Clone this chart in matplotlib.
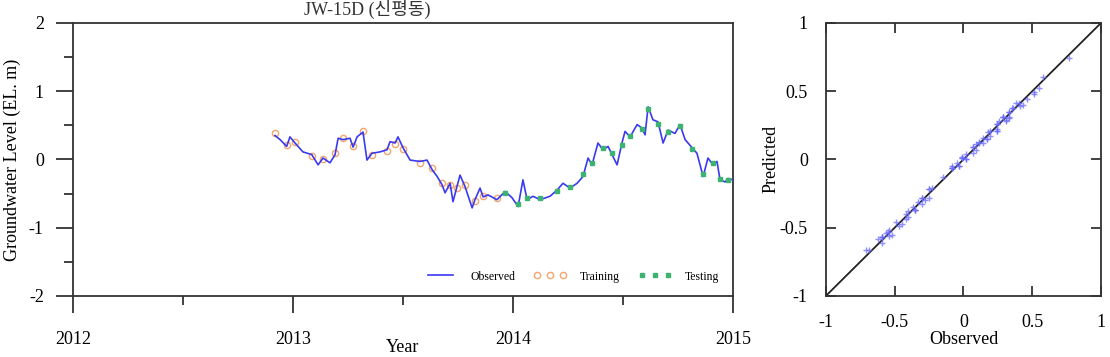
import numpy as np
import matplotlib
matplotlib.use("Agg")
import matplotlib.pyplot as plt

plt.rcParams['font.family'] = ['Liberation Serif', 'Noto Sans CJK KR']
plt.rcParams['axes.unicode_minus'] = False

# (decimal years / m)
obs_year = [2012.918, 2012.941, 2012.971, 2012.986, 2013.009, 2013.045, 2013.085, 2013.114, 2013.136, 2013.168,
            2013.191, 2013.205, 2013.227, 2013.259, 2013.273, 2013.291, 2013.318, 2013.336, 2013.359, 2013.395,
            2013.427, 2013.441, 2013.464, 2013.477, 2013.500, 2013.532, 2013.577, 2013.609, 2013.632, 2013.655,
            2013.677, 2013.691, 2013.714, 2013.727, 2013.745, 2013.759, 2013.782, 2013.814, 2013.827, 2013.850,
            2013.864, 2013.886, 2013.927, 2013.964, 2013.995, 2014.023, 2014.045, 2014.064, 2014.091, 2014.123,
            2014.168, 2014.200, 2014.227, 2014.259, 2014.291, 2014.318, 2014.341, 2014.359, 2014.386, 2014.409,
            2014.432, 2014.450, 2014.473, 2014.495, 2014.509, 2014.532, 2014.564, 2014.586, 2014.600, 2014.614,
            2014.636, 2014.659, 2014.682, 2014.705, 2014.736, 2014.759, 2014.782, 2014.814, 2014.836, 2014.864,
            2014.886, 2014.909, 2014.927, 2014.941, 2014.964, 2014.977, 2015.000]
observed = [0.35, 0.29, 0.19, 0.33, 0.24, 0.11, 0.07, -0.08, 0.02, -0.05,
            0.07, 0.31, 0.29, 0.31, 0.18, 0.33, 0.40, -0.01, 0.09, 0.11,
            0.14, 0.26, 0.24, 0.33, 0.17, -0.01, -0.03, -0.01, -0.15, -0.25,
            -0.37, -0.49, -0.35, -0.62, -0.40, -0.23, -0.40, -0.71, -0.59, -0.42,
            -0.55, -0.52, -0.59, -0.47, -0.56, -0.69, -0.30, -0.59, -0.54, -0.59,
            -0.54, -0.45, -0.35, -0.42, -0.35, -0.25, 0.02, -0.08, 0.24, 0.14,
            0.19, 0.07, -0.08, 0.24, 0.41, 0.33, 0.51, 0.46, 0.36, 0.77,
            0.58, 0.55, 0.24, 0.43, 0.38, 0.51, 0.29, 0.17, 0.09, -0.25,
            0.02, -0.08, -0.03, -0.30, -0.33, -0.28, -0.30]
predicted = [0.38, 0.31, 0.21, 0.30, 0.26, 0.13, 0.05, -0.06, 0.00, -0.03,
             0.09, 0.28, 0.31, 0.29, 0.20, 0.31, 0.41, 0.02, 0.07, 0.12,
             0.12, 0.28, 0.22, 0.35, 0.15, 0.01, -0.05, 0.01, -0.13, -0.28,
             -0.35, -0.46, -0.37, -0.58, -0.42, -0.21, -0.38, -0.66, -0.61, -0.44,
             -0.53, -0.55, -0.57, -0.49, -0.54, -0.66, -0.33, -0.57, -0.56, -0.57,
             -0.52, -0.47, -0.37, -0.40, -0.37, -0.22, 0.04, -0.05, 0.21, 0.16,
             0.17, 0.09, -0.06, 0.21, 0.39, 0.35, 0.48, 0.44, 0.38, 0.74,
             0.60, 0.52, 0.26, 0.40, 0.41, 0.49, 0.31, 0.15, 0.11, -0.22,
             0.00, -0.06, -0.05, -0.28, -0.31, -0.30, -0.28]
split_year = 2013.93

year_ticks = [2012, 2013, 2014, 2015]
level_ticks = [-2, -1, 0, 1, 2]
scatter_ticks = [-1, -0.5, 0, 0.5, 1]
scatter_labels = ['-1', '-0.5', '0', '0.5', '1']

obs_year = np.array(obs_year)
observed = np.array(observed)
predicted = np.array(predicted)
train = obs_year < split_year
test = ~train

fig = plt.figure(figsize=(11.1, 3.57), dpi=100)
ax = fig.add_axes([0.0658, 0.171, 0.5946, 0.765])
ax2 = fig.add_axes([0.744, 0.171, 0.248, 0.765])

blue = '#3a3af0'
ax.plot(obs_year, observed, color=blue, lw=1.2, label='Observed', zorder=3)
ax.plot(obs_year[train][::2], predicted[train][::2], ls='none', marker='o', ms=4.5,
        mfc='none', mec='#f4a46c', mew=1.0, label='Training', zorder=2)
ax.plot(obs_year[test][::2], predicted[test][::2], ls='none', marker='s', ms=2.8,
        mfc='#3cb371', mec='#3cb371', label='Testing', zorder=4)

ax.set_xlim(2012, 2015)
ax.set_ylim(-2, 2)
ax.set_xticks(year_ticks)
ax.set_xticks([2012.5, 2013.5, 2014.5], minor=True)
ax.set_yticks(level_ticks)
ax.set_yticks([-1.5, -0.5, 0.5, 1.5], minor=True)
ax.set_yticklabels([str(v) for v in level_ticks])
ax.tick_params(which='both', direction='out', width=1.3, color='#333333', labelsize=13, top=False, right=False)
ax.tick_params(which='major', length=12, pad=9)
ax.tick_params(which='minor', length=6.5)
ax.tick_params(axis='x', which='major', pad=13)
for s in ax.spines.values():
    s.set_linewidth(1.3)
    s.set_color('#333333')
ax.set_ylabel('Groundwater Level (EL. m)', fontsize=13, labelpad=6)
fig.text(403 / 1110, 0.002, 'Year', ha='center', va='bottom', fontsize=13)
fig.text(367 / 1110, 0.999, 'JW-15D (신평동)', ha='center', va='top', fontsize=13, color='#333333')

ax.legend(loc='lower right', bbox_to_anchor=(0.995, 0.01), ncol=3, frameon=False, fontsize=8.5,
          numpoints=3, handlelength=2.8, columnspacing=1.6, handletextpad=1.1)

# observed vs predicted
ax2.plot([-1, 1], [-1, 1], color='#222222', lw=1.3, zorder=1)
ax2.scatter(observed, predicted, marker='+', s=16, color='#6b6bff', alpha=0.75, linewidths=1.0, zorder=2)
ax2.set_xlim(-1, 1)
ax2.set_ylim(-1, 1)
ax2.set_xticks(scatter_ticks)
ax2.set_yticks(scatter_ticks)
ax2.set_xticklabels(scatter_labels)
ax2.set_yticklabels(scatter_labels)
ax2.tick_params(direction='in', length=7, width=1.3, color='#333333', labelsize=13,
                top=True, right=True, pad=13)
for s in ax2.spines.values():
    s.set_linewidth(1.3)
    s.set_color('#333333')
ax2.set_xlabel('Observed', fontsize=13, labelpad=0)
ax2.set_ylabel('Predicted', fontsize=13, labelpad=0)

fig.savefig('out.png', dpi=100)
